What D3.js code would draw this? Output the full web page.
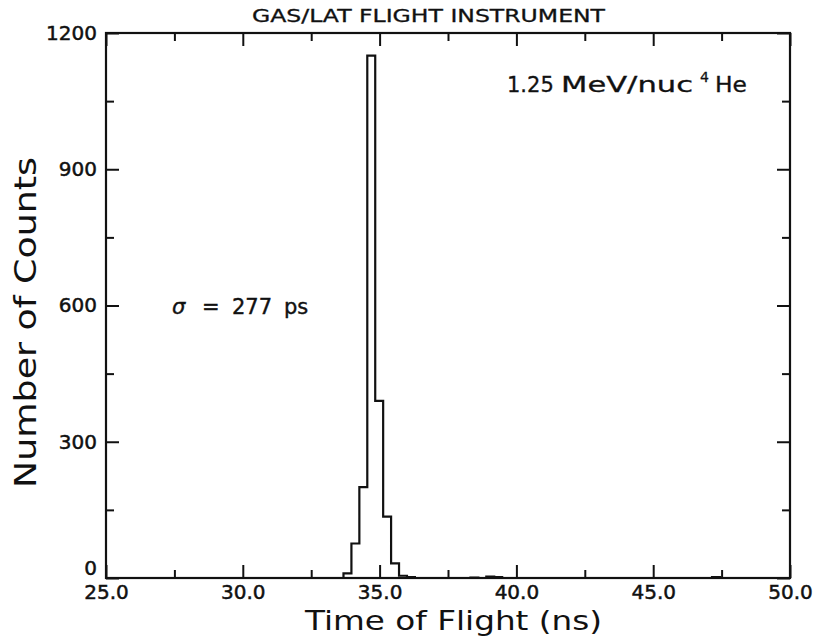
<!DOCTYPE html>
<html>
<head>
<meta charset="utf-8">
<script src="https://cdn.jsdelivr.net/npm/d3@7"></script>
<style>
  html, body { margin: 0; padding: 0; background: #ffffff; }
  svg text { font-family: "DejaVu Sans", sans-serif; fill: #111; }
</style>
</head>
<body>
<svg id="chart" width="818" height="640"></svg>
<script>
// Time-of-flight histogram, 1.25 MeV/nuc 4He
const binWidth = 0.29;                       // ns per channel
const binLeft  = [33.68, 33.97, 34.26, 34.55, 34.84, 35.13, 35.42, 35.71, 36.00, 38.32, 38.90, 39.19, 47.15];
const counts   = [10,    76,    200,   1150,  390,   135,   32,    5,     2,     1,     3,     2,     2];

const xMajor = [25, 30, 35, 40, 45, 50];
const xMajorLabels = ["25.0", "30.0", "35.0", "40.0", "45.0", "50.0"];
const xMinor = [27.5, 32.5, 37.5, 42.5, 47.5];
const yMajor = [0, 300, 600, 900, 1200];
const yMinor = [150, 450, 750, 1050];

const svg = d3.select("#chart");
const x = d3.scaleLinear().domain([25, 50]).range([106, 790]);
const y = d3.scaleLinear().domain([0, 1200]).range([578, 33]);

const ink = "#111";

// frame
svg.append("rect")
  .attr("x", x(25)).attr("y", y(1200))
  .attr("width", x(50) - x(25)).attr("height", y(0) - y(1200))
  .attr("fill", "none").attr("stroke", ink).attr("stroke-width", 2.2);

function styleAxis(g, fontSize) {
  g.select(".domain").remove();
  g.selectAll(".tick line").attr("stroke", ink).attr("stroke-width", 2);
  g.selectAll(".tick text").attr("fill", ink)
    .style("font-size", fontSize + "px")
    .attr("stroke", ink).attr("stroke-width", 0.5);
}

// bottom axis: labelled major ticks, inward
svg.append("g").attr("transform", `translate(0,${y(0)})`)
  .call(d3.axisBottom(x).tickValues(xMajor).tickSize(-13).tickPadding(7)
        .tickFormat((d, i) => xMajorLabels[i]))
  .call(g => styleAxis(g, 20));
svg.append("g").attr("transform", `translate(0,${y(0)})`)
  .call(d3.axisBottom(x).tickValues(xMinor).tickSize(-8).tickFormat(""))
  .call(g => styleAxis(g, 20));

// top axis: ticks only
svg.append("g").attr("transform", `translate(0,${y(1200)})`)
  .call(d3.axisTop(x).tickValues(xMajor).tickSize(-13).tickFormat(""))
  .call(g => styleAxis(g, 20));
svg.append("g").attr("transform", `translate(0,${y(1200)})`)
  .call(d3.axisTop(x).tickValues(xMinor).tickSize(-8).tickFormat(""))
  .call(g => styleAxis(g, 20));

// left axis: labelled major ticks ("0" sits a little above the corner)
svg.append("g").attr("transform", `translate(${x(25)},0)`)
  .call(d3.axisLeft(y).tickValues(yMajor).tickSize(-13).tickPadding(9).tickFormat(d3.format("d")))
  .call(g => styleAxis(g, 20))
  .call(g => g.selectAll(".tick text").filter(d => d === 0).attr("dy", "-0.2em"));
svg.append("g").attr("transform", `translate(${x(25)},0)`)
  .call(d3.axisLeft(y).tickValues(yMinor).tickSize(-8).tickFormat(""))
  .call(g => styleAxis(g, 20));

// right axis: ticks only
svg.append("g").attr("transform", `translate(${x(50)},0)`)
  .call(d3.axisRight(y).tickValues(yMajor).tickSize(-13).tickFormat(""))
  .call(g => styleAxis(g, 20));
svg.append("g").attr("transform", `translate(${x(50)},0)`)
  .call(d3.axisRight(y).tickValues(yMinor).tickSize(-8).tickFormat(""))
  .call(g => styleAxis(g, 20));

// histogram outline as a step line
const pts = [[25, 0]];
binLeft.forEach((b, i) => {
  const prevEnd = i > 0 ? binLeft[i - 1] + binWidth : null;
  if (prevEnd !== null && b - prevEnd > 1e-6) pts.push([prevEnd, 0]);
  pts.push([b, counts[i]]);
});
pts.push([binLeft[binLeft.length - 1] + binWidth, 0]);
pts.push([50, 0]);

svg.append("path")
  .datum(pts)
  .attr("fill", "none").attr("stroke", ink).attr("stroke-width", 2.2)
  .attr("stroke-linejoin", "miter")
  .attr("d", d3.line().x(d => x(d[0])).y(d => y(d[1])).curve(d3.curveStepAfter));

// titles
svg.append("text")
  .attr("x", 252).attr("y", 22)
  .attr("textLength", 353).attr("lengthAdjust", "spacingAndGlyphs")
  .style("font-size", "17px")
  .attr("stroke", ink).attr("stroke-width", 0.3)
  .text("GAS/LAT FLIGHT INSTRUMENT");

svg.append("text")
  .attr("x", 305).attr("y", 630)
  .attr("textLength", 297).attr("lengthAdjust", "spacingAndGlyphs")
  .style("font-size", "27px")
  .text("Time of Flight (ns)");

svg.append("text")
  .attr("transform", "translate(36,488) rotate(-90)")
  .attr("textLength", 331).attr("lengthAdjust", "spacingAndGlyphs")
  .style("font-size", "30px")
  .text("Number of Counts");

// annotations
const sig = [["σ", 172, "italic"], ["=", 202, "normal"], ["277", 232, "normal"], ["ps", 284, "normal"]];
sig.forEach(([t, px, st]) => {
  svg.append("text").attr("x", px).attr("y", 314)
    .style("font-size", "21px").style("font-style", st)
    .attr("stroke", ink).attr("stroke-width", 0.4).text(t);
});

const note = [["1.25", 507, 92, null, 21], ["MeV/nuc", 561, 92, 132, 21], ["4", 700, 82, null, 14], ["He", 715, 92, 32, 21]];
note.forEach(([t, px, py, len, fs]) => {
  const el = svg.append("text").attr("x", px).attr("y", py)
    .style("font-size", fs + "px")
    .attr("stroke", ink).attr("stroke-width", 0.3).text(t);
  if (len) el.attr("textLength", len).attr("lengthAdjust", "spacingAndGlyphs");
});
</script>
</body>
</html>
